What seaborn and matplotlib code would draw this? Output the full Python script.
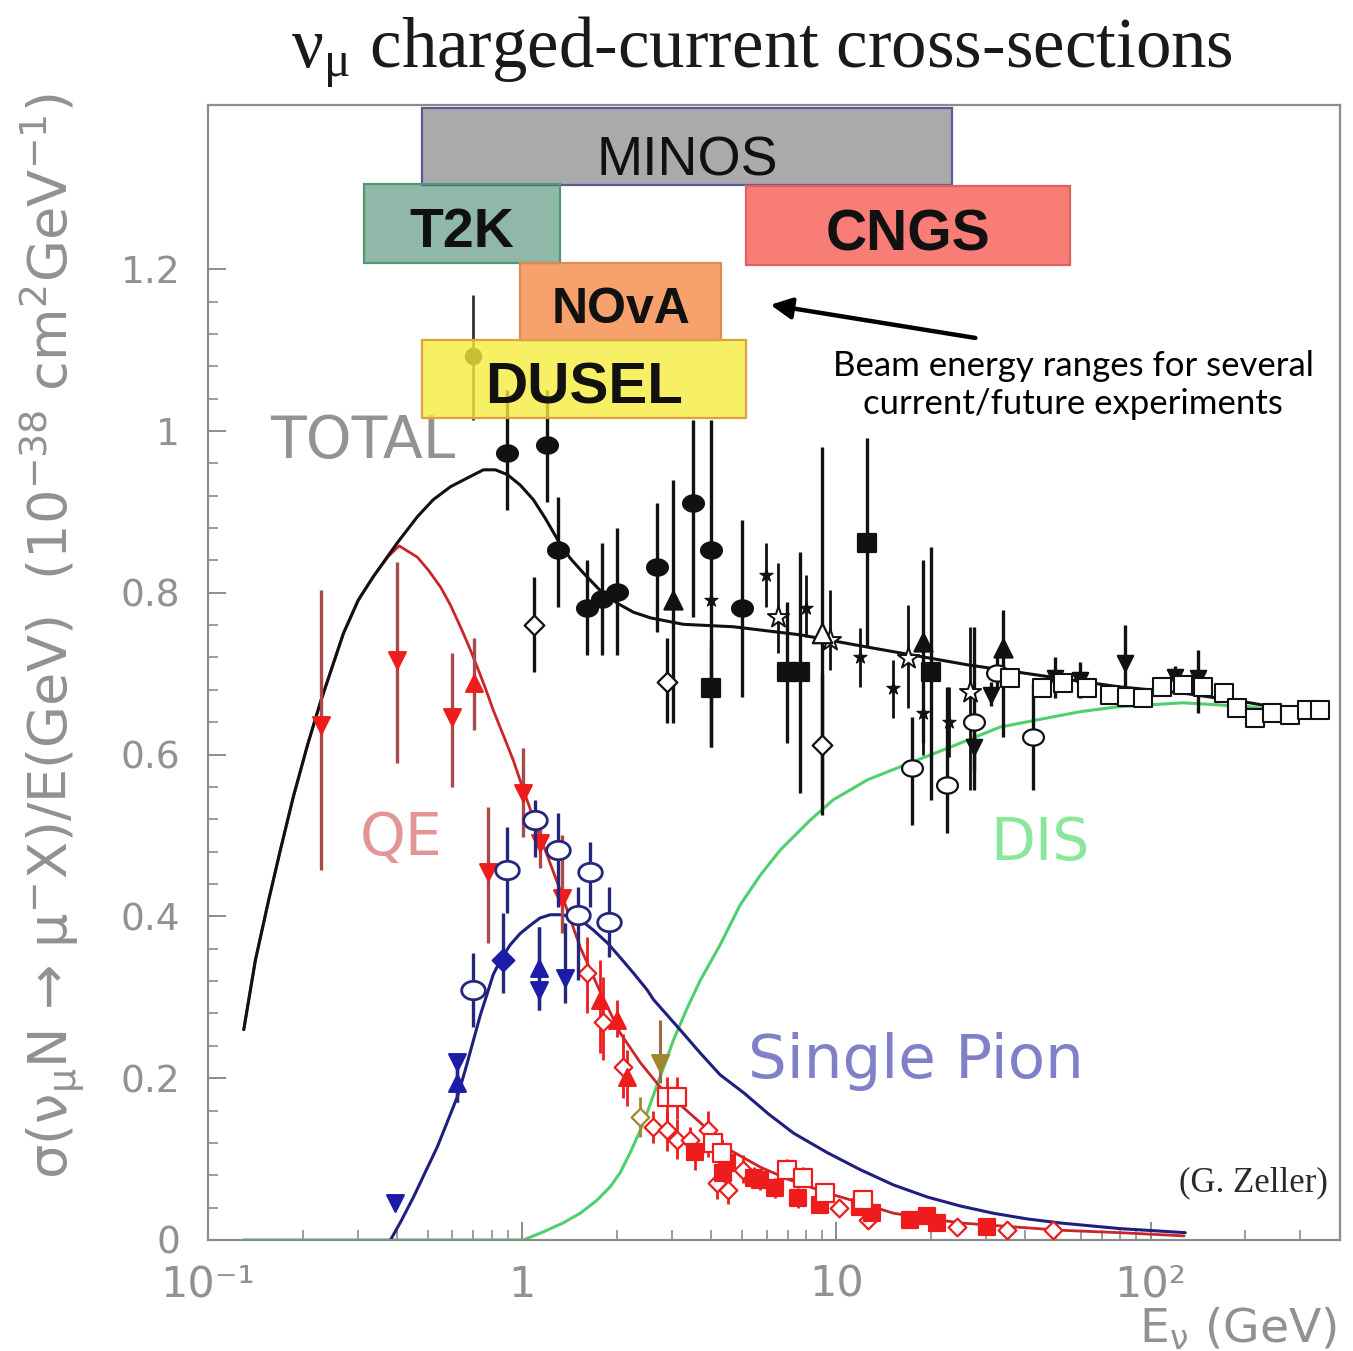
import numpy as np
import matplotlib
matplotlib.use("Agg")
import matplotlib.pyplot as plt
from matplotlib.patches import Rectangle
from matplotlib.path import Path
from matplotlib.ticker import FixedLocator, FixedFormatter, LogLocator, NullFormatter
import seaborn as sns

# ---------------------------------------------------------------------------
# Model curves: E_nu (GeV) vs sigma/E (1e-38 cm^2 / GeV)
# ---------------------------------------------------------------------------
total_E = [0.130, 0.1416, 0.156, 0.170, 0.187, 0.2075, 0.229, 0.270, 0.301, 0.336, 0.367,
           0.401, 0.464, 0.521, 0.591, 0.670, 0.753, 0.822, 0.898, 0.987, 1.086, 1.185,
           1.30, 1.42, 1.57, 1.77, 2.01, 2.26, 2.56, 3.26, 4.70, 7.68, 12.5, 26.1,
           47.9, 78.4, 127, 207, 299]
total_y = [0.260, 0.346, 0.420, 0.482, 0.548, 0.612, 0.667, 0.750, 0.791, 0.820, 0.841,
           0.862, 0.894, 0.915, 0.931, 0.942, 0.952, 0.952, 0.946, 0.933, 0.915, 0.892,
           0.865, 0.843, 0.824, 0.803, 0.787, 0.776, 0.769, 0.761, 0.758, 0.748, 0.733,
           0.711, 0.696, 0.684, 0.676, 0.664, 0.653]

qe_E = [0.130, 0.1416, 0.156, 0.170, 0.187, 0.2075, 0.229, 0.270, 0.301, 0.336, 0.375,
        0.406, 0.464, 0.503, 0.550, 0.591, 0.636, 0.675, 0.720, 0.764, 0.809, 0.871,
        0.937, 1.01, 1.12, 1.32, 1.53, 1.78, 2.05, 2.38, 2.75, 3.69, 4.59, 5.73, 7.13,
        9.36, 11.9, 15.2, 24.8, 51.5, 80.0, 128]
qe_y = [0.260, 0.346, 0.420, 0.482, 0.548, 0.612, 0.667, 0.750, 0.791, 0.820, 0.845,
        0.858, 0.844, 0.828, 0.807, 0.785, 0.758, 0.735, 0.708, 0.682, 0.655, 0.624,
        0.593, 0.556, 0.507, 0.433, 0.362, 0.305, 0.256, 0.219, 0.189, 0.145, 0.111,
        0.090, 0.074, 0.058, 0.046, 0.033, 0.021, 0.012, 0.009, 0.005]

pion_E = [0.381, 0.410, 0.451, 0.492, 0.537, 0.578, 0.622, 0.659, 0.700, 0.736, 0.775,
          0.809, 0.853, 0.917, 0.987, 1.062, 1.14, 1.229, 1.32, 1.42, 1.53, 1.686, 1.87,
          2.053, 2.26, 2.50, 2.62, 3.18, 3.69, 4.27, 5.07, 6.07, 7.31, 9.35, 11.9, 15.2,
          19.5, 24.8, 31.6, 40.5, 51.5, 80.0, 129]
pion_y = [0.0, 0.022, 0.053, 0.084, 0.115, 0.146, 0.177, 0.210, 0.247, 0.278, 0.305,
          0.328, 0.346, 0.365, 0.379, 0.389, 0.398, 0.402, 0.402, 0.400, 0.396, 0.383,
          0.367, 0.349, 0.330, 0.309, 0.297, 0.260, 0.231, 0.204, 0.182, 0.156, 0.132,
          0.108, 0.087, 0.068, 0.053, 0.042, 0.033, 0.026, 0.021, 0.014, 0.009]

dis_E = [0.130, 1.01, 1.168, 1.35, 1.53, 1.73, 1.909, 2.05, 2.208, 2.38, 2.52, 2.69,
         2.856, 3.03, 3.355, 3.69, 4.27, 4.94, 5.73, 6.63, 8.26, 9.77, 12.6, 16.0, 23.0,
         33.2, 48.0, 59.7, 78.4, 127, 207, 299]
dis_y = [0.0, 0.0, 0.010, 0.021, 0.033, 0.049, 0.066, 0.083, 0.108, 0.136, 0.161, 0.192,
         0.219, 0.247, 0.287, 0.321, 0.365, 0.414, 0.451, 0.482, 0.519, 0.544, 0.569,
         0.585, 0.609, 0.634, 0.646, 0.653, 0.659, 0.664, 0.659, 0.651]

# ---------------------------------------------------------------------------
# Inclusive (total) measurements
# ---------------------------------------------------------------------------
tot_circ_E = [0.898, 1.20, 1.30, 1.61, 1.80, 2.01, 2.69, 3.51, 4.00, 5.02]
tot_circ_y = [0.973, 0.983, 0.853, 0.781, 0.792, 0.801, 0.832, 0.911, 0.853, 0.781]
tot_circ_lo = [0.902, 0.912, 0.782, 0.723, 0.723, 0.723, 0.752, 0.770, 0.609, 0.671]
tot_circ_hi = [1.051, 1.051, 0.918, 0.841, 0.862, 0.880, 0.911, 1.014, 1.014, 0.890]

tot_tri_E = [3.01, 18.9, 34.0]
tot_tri_y = [0.791, 0.739, 0.732]
tot_tri_lo = [0.639, 0.614, 0.622]
tot_tri_hi = [0.939, 0.841, 0.779]

tot_odia_E = [1.09, 2.90, 9.02]
tot_odia_y = [0.760, 0.690, 0.612]
tot_odia_lo = [0.702, 0.639, 0.525]
tot_odia_hi = [0.820, 0.744, 0.700]

tot_sq_E = [4.00, 6.98, 7.67, 12.5, 20.0]
tot_sq_y = [0.682, 0.702, 0.702, 0.862, 0.702]
tot_sq_lo = [0.609, 0.614, 0.553, 0.733, 0.544]
tot_sq_hi = [0.742, 0.789, 0.850, 0.991, 0.857]

tot_star_E = [4.00, 5.98, 8.02, 11.9, 15.1, 18.9, 22.9]
tot_star_y = [0.791, 0.822, 0.781, 0.721, 0.682, 0.651, 0.640]
tot_star_lo = [0.760, 0.782, 0.745, 0.684, 0.645, 0.600, 0.597]
tot_star_hi = [0.820, 0.862, 0.822, 0.757, 0.717, 0.700, 0.684]

tot_ostar_E = [6.53, 9.58, 16.9, 26.7]
tot_ostar_y = [0.770, 0.742, 0.719, 0.677]
tot_ostar_lo = [0.726, 0.705, 0.658, 0.556]
tot_ostar_hi = [0.837, 0.803, 0.785, 0.758]

tot_otri_E = [9.02]
tot_otri_y = [0.750]
tot_otri_lo = [0.544]
tot_otri_hi = [0.980]

tot_ocirc_E = [17.4, 22.5, 27.5, 32.5, 42.3]
tot_ocirc_y = [0.583, 0.562, 0.640, 0.701, 0.622]
tot_ocirc_lo = [0.513, 0.503, 0.556, 0.680, 0.556]
tot_ocirc_hi = [0.646, 0.684, 0.758, 0.720, 0.689]

tot_tdn_E = [27.5, 31.1, 49.7, 59.7, 83.0, 120, 142]
tot_tdn_y = [0.609, 0.674, 0.695, 0.692, 0.713, 0.696, 0.695]
tot_tdn_lo = [0.580, 0.660, 0.670, 0.670, 0.664, 0.680, 0.651]
tot_tdn_hi = [0.640, 0.690, 0.720, 0.715, 0.760, 0.710, 0.729]

tot_osq_E = [35.7, 45.1, 52.8, 62.7, 74.4, 84.1, 94.9, 108.6, 127, 147, 171, 188,
             215, 243, 278, 314, 347]
tot_osq_y = [0.695, 0.682, 0.688, 0.682, 0.674, 0.671, 0.670, 0.684, 0.686, 0.684,
             0.676, 0.657, 0.645, 0.651, 0.649, 0.655, 0.655]

low_E = [0.700]
low_y = [1.093]
low_lo = [1.014]
low_hi = [1.168]

# ---------------------------------------------------------------------------
# Quasi-elastic measurements
# ---------------------------------------------------------------------------
qe_tdn_E = [0.229, 0.400, 0.599, 0.780, 1.01, 1.14, 1.34]
qe_tdn_y = [0.637, 0.717, 0.646, 0.455, 0.553, 0.491, 0.423]
qe_tdn_lo = [0.457, 0.590, 0.560, 0.367, 0.498, 0.460, 0.380]
qe_tdn_hi = [0.803, 0.838, 0.726, 0.535, 0.608, 0.520, 0.500]

qe_tup_E = [0.701]
qe_tup_y = [0.689]
qe_tup_lo = [0.630]
qe_tup_hi = [0.744]

qe_odia_E = [1.61, 1.81, 2.10, 2.61, 2.90, 3.12, 3.43, 3.91, 4.18, 4.52, 5.03, 10.2,
             12.6, 24.2, 35.0, 49.0]
qe_odia_y = [0.330, 0.270, 0.214, 0.140, 0.136, 0.124, 0.124, 0.136, 0.070, 0.062,
             0.087, 0.040, 0.025, 0.016, 0.012, 0.012]
qe_odia_lo = [0.281, 0.222, 0.175, 0.120, 0.110, 0.100, 0.103, 0.103, 0.050, 0.045,
              0.070, 0.030, 0.015, 0.008, 0.005, 0.005]
qe_odia_hi = [0.375, 0.325, 0.255, 0.160, 0.160, 0.150, 0.140, 0.160, 0.087, 0.080,
              0.105, 0.050, 0.035, 0.024, 0.019, 0.019]

qe_ftri_E = [1.77, 2.01, 2.16]
qe_ftri_y = [0.297, 0.272, 0.202]
qe_ftri_lo = [0.231, 0.251, 0.165]
qe_ftri_hi = [0.346, 0.297, 0.235]

qe_fsq_E = [3.56, 4.37, 4.50, 5.46, 5.73, 6.39, 7.57, 8.89, 11.9, 13.0, 17.2, 19.5,
            20.9, 30.2]
qe_fsq_y = [0.109, 0.083, 0.095, 0.077, 0.074, 0.064, 0.052, 0.043, 0.041, 0.033,
            0.025, 0.029, 0.021, 0.016]
qe_fsq_lo = [0.087, 0.068, 0.080, 0.065, 0.062, 0.052, 0.040, 0.033, 0.031, 0.024,
             0.017, 0.021, 0.014, 0.010]
qe_fsq_hi = [0.124, 0.100, 0.110, 0.090, 0.086, 0.076, 0.064, 0.053, 0.051, 0.042,
             0.033, 0.037, 0.028, 0.022]

qe_osq_E = [2.90, 3.12, 4.06, 4.34, 6.98, 7.86, 9.23, 12.2]
qe_osq_y = [0.177, 0.177, 0.120, 0.107, 0.087, 0.077, 0.058, 0.049]
qe_osq_lo = [0.132, 0.150, 0.100, 0.090, 0.075, 0.065, 0.048, 0.040]
qe_osq_hi = [0.201, 0.201, 0.140, 0.125, 0.100, 0.090, 0.068, 0.058]

olive_tdn_E = [2.74]
olive_tdn_y = [0.219]
olive_tdn_lo = [0.194]
olive_tdn_hi = [0.272]
olive_dia_E = [2.38]
olive_dia_y = [0.152]
olive_dia_lo = [0.127]
olive_dia_hi = [0.177]

# ---------------------------------------------------------------------------
# Single-pion measurements
# ---------------------------------------------------------------------------
pi_tdn_E = [0.395, 0.622, 1.13, 1.37]
pi_tdn_y = [0.046, 0.220, 0.309, 0.324]
pi_tdn_lo = [0.046, 0.170, 0.284, 0.293]
pi_tdn_hi = [0.046, 0.230, 0.387, 0.392]

pi_tup_E = [0.622, 1.13]
pi_tup_y = [0.194, 0.336]
pi_tup_lo = [0.170, 0.284]
pi_tup_hi = [0.230, 0.387]

pi_dia_E = [0.871]
pi_dia_y = [0.346]
pi_dia_lo = [0.305]
pi_dia_hi = [0.404]

pi_ocirc_E = [0.700, 0.897, 1.10, 1.30, 1.51, 1.65, 1.89]
pi_ocirc_y = [0.309, 0.457, 0.519, 0.482, 0.402, 0.455, 0.393]
pi_ocirc_lo = [0.263, 0.404, 0.473, 0.412, 0.321, 0.412, 0.350]
pi_ocirc_hi = [0.355, 0.510, 0.544, 0.528, 0.436, 0.492, 0.436]

# ---------------------------------------------------------------------------
# Beam energy ranges of the experiments
# ---------------------------------------------------------------------------
exp_names = ["MINOS", "T2K", "CNGS", "NOvA", "DUSEL"]
exp_Emin = [0.481, 0.313, 5.16, 0.987, 0.481]
exp_Emax = [23.4, 1.32, 55.5, 4.30, 5.16]
exp_ylo = [1.304, 1.208, 1.205, 1.112, 1.016]
exp_yhi = [1.399, 1.305, 1.303, 1.208, 1.112]

# axis ticks
y_ticks = [0.0, 0.2, 0.4, 0.6, 0.8, 1.0, 1.2]
y_tick_labels = ["0", "0.2", "0.4", "0.6", "0.8", "1", "1.2"]
x_ticks = [0.1, 1, 10, 100]
x_tick_labels = ["10⁻¹", "1", "10", "10²"]

# ---------------------------------------------------------------------------
sns.set_theme(style="ticks")
plt.rcParams["font.family"] = ["DejaVu Sans"]
plt.rcParams["mathtext.default"] = "regular"

GEO = ["DejaVu Sans"]
NOTE = ["Lato", "DejaVu Sans"]
SERIF = ["Liberation Serif", "DejaVu Serif"]
SANS = ["Liberation Sans", "DejaVu Sans"]
GRAY = "#919191"

fig = plt.figure(figsize=(13.53, 13.51), dpi=100)
ax = fig.add_axes([0.1537, 0.0822, 0.8367, 0.8401])
ax.set_xscale("log")
ax.set_xlim(0.1, 401)
ax.set_ylim(0, 1.403)
PX = 1.403 / 1135.0  # one pixel in y data units

# curves
sns.lineplot(x=dis_E, y=dis_y, ax=ax, color="#4fcf6e", lw=2.2, sort=False, estimator=None, zorder=2)
sns.lineplot(x=pion_E, y=pion_y, ax=ax, color="#1f1f80", lw=2.2, sort=False, estimator=None, zorder=2.1)
sns.lineplot(x=qe_E, y=qe_y, ax=ax, color="#c8262a", lw=2.0, sort=False, estimator=None, zorder=2.2)
sns.lineplot(x=total_E, y=total_y, ax=ax, color="#111111", lw=2.2, sort=False, estimator=None, zorder=2.5)

theta = np.linspace(0, 2 * np.pi, 64)
ELLIPSE = Path(np.column_stack([np.cos(theta), 0.78 * np.sin(theta)]), closed=True)


def draw_points(E, y, lo, hi, marker, size, face, edge, bar_color, bar_lw, z, edge_lw=1.6):
    E = np.asarray(E, float)
    y = np.asarray(y, float)
    lo = np.asarray(lo, float)
    hi = np.asarray(hi, float)
    ax.errorbar(E, y, yerr=np.vstack([y - lo, hi - y]), fmt="none", ecolor=bar_color,
                elinewidth=bar_lw, capsize=0, zorder=z)
    sns.scatterplot(x=E, y=y, marker=marker, s=size ** 2, color=face, edgecolor=edge,
                    linewidth=edge_lw, ax=ax, zorder=z + 0.1, legend=False)


K = "#111111"
draw_points(tot_circ_E, tot_circ_y, tot_circ_lo, tot_circ_hi, ELLIPSE, 15, K, K, K, 2.4, 4)
draw_points(tot_tri_E, tot_tri_y, tot_tri_lo, tot_tri_hi, "^", 13, K, K, K, 2.4, 4)
draw_points(tot_odia_E, tot_odia_y, tot_odia_lo, tot_odia_hi, "D", 10, "white", K, K, 2.4, 4)
draw_points(tot_sq_E, tot_sq_y, tot_sq_lo, tot_sq_hi, "s", 13, K, K, K, 2.4, 4)
draw_points(tot_star_E, tot_star_y, tot_star_lo, tot_star_hi, "*", 10, K, K, K, 2.0, 4, 0.8)
draw_points(tot_ostar_E, tot_ostar_y, tot_ostar_lo, tot_ostar_hi, "*", 16, "white", K, K, 2.0, 4, 1.4)
draw_points(tot_otri_E, tot_otri_y, tot_otri_lo, tot_otri_hi, "^", 14, "white", K, K, 2.4, 4)
draw_points(tot_ocirc_E, tot_ocirc_y, tot_ocirc_lo, tot_ocirc_hi, ELLIPSE, 15, "white", K, K, 2.4, 4)
draw_points(tot_tdn_E, tot_tdn_y, tot_tdn_lo, tot_tdn_hi, "v", 11, K, K, K, 2.4, 4)
draw_points(tot_osq_E, tot_osq_y, tot_osq_y, tot_osq_y, "s", 13, "white", K, K, 1.6, 4, 1.5)
draw_points(low_E, low_y, low_lo, low_hi, "o", 11, K, K, "#333333", 2.0, 4)

R = "#ee1c1c"
RB = "#a84a4a"
draw_points(qe_tdn_E, qe_tdn_y, qe_tdn_lo, qe_tdn_hi, "v", 12, R, R, RB, 2.4, 3.6)
draw_points(qe_tup_E, qe_tup_y, qe_tup_lo, qe_tup_hi, "^", 12, R, R, RB, 2.4, 3.6)
draw_points(qe_odia_E, qe_odia_y, qe_odia_lo, qe_odia_hi, "D", 9, "white", R, R, 2.0, 3.6)
draw_points(qe_ftri_E, qe_ftri_y, qe_ftri_lo, qe_ftri_hi, "^", 12, R, R, R, 2.0, 3.6)
draw_points(qe_fsq_E, qe_fsq_y, qe_fsq_lo, qe_fsq_hi, "s", 12, R, R, R, 2.0, 3.6)
draw_points(qe_osq_E, qe_osq_y, qe_osq_lo, qe_osq_hi, "s", 13, "white", R, R, 2.0, 3.6)

OL = "#a0862c"
draw_points(olive_tdn_E, olive_tdn_y, olive_tdn_lo, olive_tdn_hi, "v", 12, OL, OL, "#9a6a40", 2.2, 3.7)
draw_points(olive_dia_E, olive_dia_y, olive_dia_lo, olive_dia_hi, "D", 9, "white", OL, OL, 2.0, 3.7)

B = "#1c1ca8"
BB = "#26267a"
draw_points(pi_tdn_E, pi_tdn_y, pi_tdn_lo, pi_tdn_hi, "v", 12, B, B, BB, 2.4, 3.8)
draw_points(pi_tup_E, pi_tup_y, pi_tup_lo, pi_tup_hi, "^", 12, B, B, BB, 2.4, 3.8)
draw_points(pi_dia_E, pi_dia_y, pi_dia_lo, pi_dia_hi, "D", 11, B, B, BB, 2.4, 3.8)
draw_points(pi_ocirc_E, pi_ocirc_y, pi_ocirc_lo, pi_ocirc_hi, ELLIPSE, 17, "white", BB, BB, 2.4, 3.8, 2.0)

# experiment boxes, names sit on a baseline a few pixels above each box's lower edge
box_faces = ["#959595", "#73a692", "#f65c54", "#f68b47", "#f6ec3d"]
box_edges = ["#5a5a9a", "#4f9a70", "#e06060", "#e08a50", "#e0a040"]
box_weights = ["normal", "bold", "bold", "bold", "bold"]
box_sizes = [40, 40, 41, 36, 42]
box_base_px = [10, 16, 15, 17, 15]
for name, e0, e1, y0, y1, fc, ec, fw, fs, bp in zip(exp_names, exp_Emin, exp_Emax, exp_ylo,
                                                  exp_yhi, box_faces, box_edges, box_weights,
                                                  box_sizes, box_base_px):
    ax.add_patch(Rectangle((e0, y0), e1 - e0, y1 - y0, facecolor=fc, alpha=0.8,
                           edgecolor="none", zorder=5))
    ax.add_patch(Rectangle((e0, y0), e1 - e0, y1 - y0, facecolor="none",
                           edgecolor=ec, lw=1.6, zorder=5.1))
    ax.text(np.sqrt(e0 * e1), y0 + bp * PX, name, ha="center", va="baseline",
            fontsize=fs, fontweight=fw, family=SANS, color="#111111", zorder=6)

# curve labels
ax.text(0.158, 0.967, "TOTAL", fontsize=42, color="#939393", family=GEO,
        ha="left", va="baseline")
ax.text(0.305, 0.476, "QE", fontsize=42, color="#e39494", family=GEO,
        ha="left", va="baseline")
ax.text(30.9, 0.470, "DIS", fontsize=42, color="#8ae79b", family=GEO,
        ha="left", va="baseline")
ax.text(5.25, 0.200, "Single Pion", fontsize=44, color="#8080c8", family=GEO,
        ha="left", va="baseline")
ax.text(0.989, 0.043, "(G. Zeller)", transform=ax.transAxes, fontsize=25, family=SERIF,
        color="#2a2a2a", ha="right", va="baseline")

# annotation arrow and note
ax.annotate("", xy=(6.17, 1.156), xytext=(27.7, 1.115),
            arrowprops=dict(arrowstyle="-|>", lw=3.2, color="black", mutation_scale=32,
                            shrinkA=0, shrinkB=0), zorder=7)
fig.text(1073 / 1353, 1 - 385 / 1351, "Beam energy ranges for several\ncurrent/future experiments",
         ha="center", va="center", fontsize=25, family=NOTE, color="black", linespacing=1.2)

# axes styling
for side in ["left", "bottom", "top", "right"]:
    ax.spines[side].set_color("#8c8c8c")
    ax.spines[side].set_linewidth(1.6)
ax.yaxis.set_major_locator(FixedLocator(y_ticks))
ax.yaxis.set_major_formatter(FixedFormatter(y_tick_labels))
ax.yaxis.set_minor_locator(FixedLocator([0.04 * k for k in range(31) if k % 5]))
ax.xaxis.set_major_locator(FixedLocator(x_ticks))
ax.xaxis.set_major_formatter(FixedFormatter(x_tick_labels))
ax.xaxis.set_minor_locator(LogLocator(base=10, subs=np.arange(2, 10), numticks=20))
ax.xaxis.set_minor_formatter(NullFormatter())
ax.tick_params(which="major", direction="in", length=13, width=1.4, color="#8c8c8c",
               labelcolor=GRAY, top=False, right=False)
ax.tick_params(which="minor", direction="in", length=7, width=1.2, color="#8c8c8c",
               top=False, right=False)
ax.tick_params(axis="y", pad=20, labelsize=27)
ax.tick_params(axis="x", pad=17, labelsize=31)
for lab in ax.get_xticklabels() + ax.get_yticklabels():
    lab.set_family(GEO)
ax.set_xlabel("")
ax.set_ylabel("")

# titles
fig.text(762 / 1353, 1 - 68 / 1351, "ν$_{μ}$ charged-current cross-sections", ha="center",
         va="baseline", fontsize=51, family=SERIF, color="#1a1a1a")
fig.text(52 / 1353, 1 - 636 / 1351,
         "σ(ν$_{μ}$N → μ$^{-}$X)/E(GeV)  (10$^{-38}$ cm$^{2}$GeV$^{-1}$)",
         rotation=90, ha="center", va="center", fontsize=39, family=GEO, color=GRAY)
fig.text(1337 / 1353, 1 - 1343 / 1351, "E$_{ν}$ (GeV)", ha="right", va="baseline",
         fontsize=34, family=GEO, color=GRAY)

fig.savefig("out.png", dpi=100)
